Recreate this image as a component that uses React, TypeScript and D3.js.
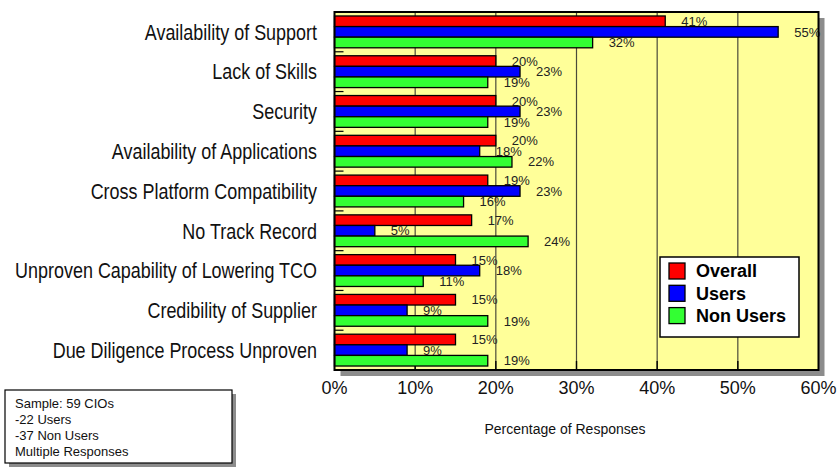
import React from "react";
import * as d3 from "d3";

// Survey data: share of responses per concern, by respondent group
const categories = [
  "Availability of Support",
  "Lack of Skills",
  "Security",
  "Availability of Applications",
  "Cross Platform Compatibility",
  "No Track Record",
  "Unproven Capability of Lowering TCO",
  "Credibility of Supplier",
  "Due Diligence Process Unproven",
];
const overall = [41, 20, 20, 20, 19, 17, 15, 15, 15];
const users = [55, 23, 23, 18, 23, 5, 18, 9, 9];
const nonUsers = [32, 19, 19, 22, 16, 24, 11, 19, 19];
const seriesNames = ["Overall", "Users", "Non Users"];
const seriesColors = ["#FF0000", "#0000FF", "#33FF33"];
const xTicks = [0, 10, 20, 30, 40, 50, 60];
const sampleNotes = ["Sample: 59 CIOs", "-22 Users", "-37 Non Users", "Multiple Responses"];
const axisTitle = "Percentage of Responses";

const W = 838;
const H = 468;
const FONT = "'Liberation Sans', Arial, Helvetica, sans-serif";

export default function App() {
  const plot = { left: 334.5, right: 818.5, top: 12, bottom: 370 };
  const x = d3.scaleLinear().domain([0, 60]).range([plot.left, plot.right]);
  const y = d3
    .scaleBand<string>()
    .domain(categories)
    .range([plot.top, plot.bottom])
    .paddingInner(0.2)
    .paddingOuter(0.1);
  const sub = d3.scaleBand<string>().domain(seriesNames).range([0, y.bandwidth()]);
  const series = [overall, users, nonUsers];
  const color = d3.scaleOrdinal<string, string>().domain(seriesNames).range(seriesColors);
  const gap = (y.step() * y.paddingInner()) / 2;
  const pw = plot.right - plot.left;
  const ph = plot.bottom - plot.top;

  const legend = { x: 660, y: 257, w: 139, h: 80 };
  const note = { x: 5, y: 390, w: 227, h: 73 };

  return (
    <svg
      width={W}
      height={H}
      style={{ position: "absolute", left: 0, top: 0, display: "block", background: "#fff" }}
      fontFamily={FONT}
    >
      {/* plot area with drop shadow */}
      <rect x={plot.left + 6} y={plot.top + 6} width={pw} height={ph} fill="#8c8c8c" />
      <rect x={plot.left} y={plot.top} width={pw} height={ph} fill="#FFFF99" />

      {/* vertical gridlines */}
      {xTicks.slice(1, -1).map((t) => (
        <line key={"g" + t} x1={x(t)} x2={x(t)} y1={plot.top} y2={plot.bottom} stroke="#4a4a3a" strokeWidth={1.2} />
      ))}
      {xTicks.slice(1, -1).map((t) => (
        <line key={"xt" + t} x1={x(t)} x2={x(t)} y1={plot.bottom - 9} y2={plot.bottom} stroke="#000" strokeWidth={1.4} />
      ))}

      {/* category boundary ticks */}
      {categories.slice(1).map((c) => {
        const yy = (y(c) as number) - gap;
        return <line key={"yt" + c} x1={plot.left} x2={plot.left + 9} y1={yy} y2={yy} stroke="#000" strokeWidth={1.2} />;
      })}

      {/* bars and value labels */}
      {categories.map((c, i) => (
        <g key={c} transform={`translate(0,${y(c)})`}>
          {seriesNames.map((s, k) => {
            const v = series[k][i];
            const by = sub(s) as number;
            return (
              <g key={s}>
                <rect
                  x={x(0)}
                  y={by}
                  width={x(v) - x(0)}
                  height={sub.bandwidth()}
                  fill={color(s)}
                  stroke="#000"
                  strokeWidth={1.3}
                />
                <text
                  x={x(v) + 16}
                  y={by + sub.bandwidth() / 2}
                  dy="0.36em"
                  fontSize={13}
                  fill="#222"
                >
                  {v}%
                </text>
              </g>
            );
          })}
        </g>
      ))}

      {/* plot frame */}
      <rect x={plot.left} y={plot.top} width={pw} height={ph} fill="none" stroke="#000" strokeWidth={2} />

      {/* category labels (condensed) */}
      {categories.map((c) => (
        <text
          key={"l" + c}
          transform={`translate(317,${(y(c) as number) + y.bandwidth() / 2}) scale(0.835,1)`}
          textAnchor="end"
          dy="0.36em"
          fontSize={21.5}
          fill="#111"
        >
          {c}
        </text>
      ))}

      {/* x axis labels */}
      {xTicks.map((t) => (
        <text key={"xl" + t} x={x(t)} y={394} textAnchor="middle" fontSize={18} fill="#111">
          {t}%
        </text>
      ))}
      <text x={565} y={434} textAnchor="middle" fontSize={14} fill="#111">
        {axisTitle}
      </text>

      {/* legend */}
      <rect x={legend.x} y={legend.y} width={legend.w} height={legend.h} fill="#fff" stroke="#000" strokeWidth={1.5} />
      {seriesNames.map((s, k) => (
        <g key={"lg" + s} transform={`translate(${legend.x + 9},${legend.y + 6 + k * 22.3})`}>
          <rect x={0} y={0} width={16} height={16} fill={color(s)} stroke="#000" strokeWidth={1.3} />
          <text x={27} y={8} dy="0.36em" fontSize={18} fontWeight="bold" fill="#000">
            {s}
          </text>
        </g>
      ))}

      {/* sample note */}
      <rect x={note.x + 4} y={note.y + 4} width={note.w} height={note.h} fill="#8c8c8c" />
      <rect x={note.x} y={note.y} width={note.w} height={note.h} fill="#fff" stroke="#000" strokeWidth={1.2} />
      {sampleNotes.map((n, i) => (
        <text key={"n" + i} x={note.x + 10} y={note.y + 18 + i * 16} fontSize={13} fill="#111">
          {n}
        </text>
      ))}
    </svg>
  );
}
